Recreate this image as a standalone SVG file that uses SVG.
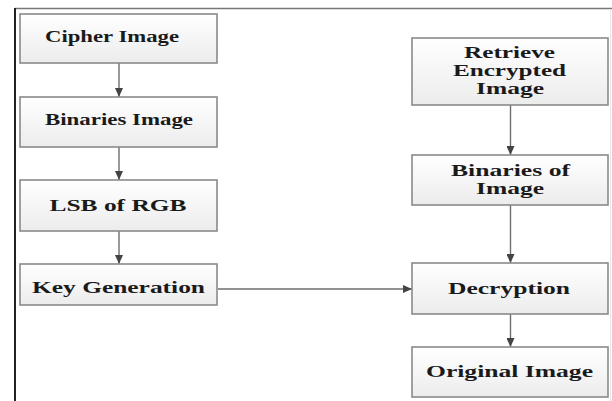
<svg xmlns="http://www.w3.org/2000/svg" width="612" height="401" viewBox="0 0 612 401">
<defs>
<linearGradient id="g" x1="0" y1="0" x2="0" y2="1">
<stop offset="0" stop-color="#ffffff"/>
<stop offset="1" stop-color="#ececec"/>
</linearGradient>
<marker id="ah" markerWidth="10" markerHeight="8" refX="9" refY="4" orient="auto" markerUnits="userSpaceOnUse">
<path d="M0,0 L9,4 L0,8 z" fill="#444"/>
</marker>
<style>
.box{fill:url(#g);stroke:#8a8a8a;stroke-width:1.6}
.t{font-family:"Liberation Serif","Times New Roman",serif;font-weight:bold;font-size:16px;fill:#1a1a1a;text-anchor:middle}
.c{stroke:#6e6e6e;stroke-width:1.4;fill:none}
</style>
</defs>
<rect x="0" y="0" width="612" height="401" fill="#ffffff"/>
<line x1="15" y1="8.5" x2="612" y2="8.5" stroke="#777" stroke-width="1.5"/>
<line x1="15" y1="8" x2="15" y2="401" stroke="#222" stroke-width="2"/>
<line x1="610.5" y1="9" x2="610.5" y2="401" stroke="#e6e6e6" stroke-width="1"/>

<g id="connectors">
<line class="c" x1="119" y1="63" x2="119" y2="97" marker-end="url(#ah)"/>
<line class="c" x1="119" y1="147" x2="119" y2="180" marker-end="url(#ah)"/>
<line class="c" x1="119" y1="231" x2="119" y2="264" marker-end="url(#ah)"/>
<line class="c" x1="218" y1="289" x2="412" y2="289" marker-end="url(#ah)"/>
<line class="c" x1="510.5" y1="105" x2="510.5" y2="155" marker-end="url(#ah)"/>
<line class="c" x1="510.5" y1="205" x2="510.5" y2="263" marker-end="url(#ah)"/>
<line class="c" x1="510.5" y1="314" x2="510.5" y2="347" marker-end="url(#ah)"/>
</g>

<g id="cipher">
<rect class="box" x="20" y="14" width="197" height="49"/>
<text class="t" x="112" y="42" textLength="134" lengthAdjust="spacingAndGlyphs">Cipher Image</text>
</g>
<g id="binaries">
<rect class="box" x="20" y="97" width="197" height="50"/>
<text class="t" x="119" y="125" textLength="148" lengthAdjust="spacingAndGlyphs">Binaries Image</text>
</g>
<g id="lsb">
<rect class="box" x="20" y="180" width="197" height="51"/>
<text class="t" x="118" y="211" textLength="137" lengthAdjust="spacingAndGlyphs">LSB of RGB</text>
</g>
<g id="keygen">
<rect class="box" x="20" y="264" width="197" height="41"/>
<text class="t" x="118.5" y="293" textLength="173" lengthAdjust="spacingAndGlyphs">Key Generation</text>
</g>

<g id="retrieve">
<rect class="box" x="412" y="38" width="196" height="67"/>
<text class="t" x="509.5" y="58" textLength="91" lengthAdjust="spacingAndGlyphs">Retrieve</text>
<text class="t" x="509.5" y="76" textLength="113" lengthAdjust="spacingAndGlyphs">Encrypted</text>
<text class="t" x="510" y="94" textLength="68" lengthAdjust="spacingAndGlyphs">Image</text>
</g>
<g id="binariesof">
<rect class="box" x="412" y="155" width="196" height="50"/>
<text class="t" x="510.5" y="176" textLength="119" lengthAdjust="spacingAndGlyphs">Binaries of</text>
<text class="t" x="510" y="194" textLength="68" lengthAdjust="spacingAndGlyphs">Image</text>
</g>
<g id="decryption">
<rect class="box" x="412" y="263" width="196" height="51"/>
<text class="t" x="509" y="294" textLength="122" lengthAdjust="spacingAndGlyphs">Decryption</text>
</g>
<g id="original">
<rect class="box" x="412" y="347" width="196" height="50"/>
<text class="t" x="509.5" y="377" textLength="167" lengthAdjust="spacingAndGlyphs">Original Image</text>
</g>
</svg>
